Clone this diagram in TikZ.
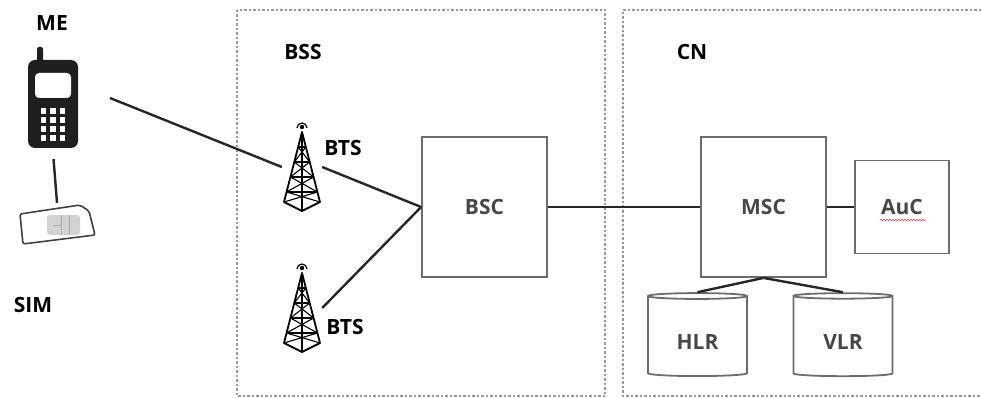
\documentclass[tikz,border=0pt]{standalone}
\usepackage{fontspec}
\setmainfont{Open Sans}
\usepackage{tikz}
\usetikzlibrary{arrows}
\usetikzlibrary{calc}
\usetikzlibrary{shapes.geometric}
\usetikzlibrary{decorations.pathmorphing}

\begin{document}
\begin{tikzpicture}[x=1pt,y=-1pt,inner sep=0pt,
  every node/.style={font=\fontsize{21}{24}\selectfont\bfseries},
  group/.style={draw=gray!80,line width=1.6pt,dash pattern=on 2.5pt off 2pt},
  box/.style={draw=gray!85!black,line width=1.8pt,text=black!72,minimum width=125pt,minimum height=140pt},
  db/.style={draw=gray!85!black,line width=1.8pt,text=black!72,cylinder,shape border rotate=90,aspect=0.14,minimum width=99pt,minimum height=83pt,text height=25pt},
  link/.style={line width=2.4pt,black!85},
  tower/.pic={
    \fill (0,-40) circle (2.2);
    \draw[line width=1.2pt] (-5,-39) arc (180:360:5);
    \draw[line width=1.8pt,line join=round] (-18,35) -- (0,-35) -- (18,35) -- (0,44) -- cycle (0,-35) -- (0,44);
    \foreach \a in {-20,-5,10,25}
      \draw[line width=1.3pt] ({-18*(\a+35)/70},\a) -- ({18*(\a+35)/70},\a);
    \foreach \a/\b in {-20/-5,-5/10,10/25,25/35}
      \draw[line width=1.1pt] ({-18*(\a+35)/70},\a) -- ({18*(\b+35)/70},\b) ({18*(\a+35)/70},\a) -- ({-18*(\b+35)/70},\b);
  },
  phone/.pic={
    \fill[black!88,rounded corners=2pt] (-16,-57) rectangle (-10,-40);
    \fill[black!88,rounded corners=7pt] (-25,-44) rectangle (25,44);
    \fill[white,rounded corners=4pt] (-18,-31) rectangle (18,-6);
    \foreach \i in {-9.5,0,9.5}
      \foreach \j in {7,16,25,34}
        \fill[white] (\i-2.8,\j-2.8) rectangle +(5.6,5.6);
  },
  simcard/.pic={
    \fill[gray!35,rounded corners=3pt] (-10,-9) rectangle (23,11);
    \draw[gray!65,line width=0.9pt] (4,-9) -- (4,11) (12,-9) -- (12,11) (-4,1) -- (4,1);
    \draw[black!75,line width=1.6pt,rounded corners=2pt] (-37,-10) -- (23,-19) -- (32,-13) -- (38,11) -- (-34,20) -- cycle;
  }]
\useasboundingbox (0,0) rectangle (981,398);

% groups
\draw[group] (237,10) rectangle (605,396);
\draw[group] (981,10) -- (623,10) -- (623,396) -- (981,396);
\node (BSSlbl) at (303,52) {BSS};
\node (CNlbl) at (692,52) {CN};

% mobile station
\node (MElbl) at (52,23) {ME};
\node [minimum width=52pt,minimum height=96pt] (ME) at (53,104) {};
\pic at (ME.center) {phone};
\coordinate (MEout) at (110,98);
\node [minimum width=76pt,minimum height=42pt] (SIM) at (57,224) {};
\pic at (SIM.center) {simcard};
\node (SIMlbl) at (33,305) {SIM};

% base stations
\node [minimum width=40pt,minimum height=94pt] (BTS1) at (302,167) {};
\node [minimum width=40pt,minimum height=94pt] (BTS2) at (302,308) {};
\pic at (BTS1.center) {tower};
\pic at (BTS2.center) {tower};
\node (BTS1lbl) at (343,148) {BTS};
\node (BTS2lbl) at (345,327) {BTS};

% controllers
\draw node [box] (BSC) at (484.5,207) {BSC};
\draw node [box] [node distance=279pt,right of=BSC] (MSC) {MSC};
\draw node [box,minimum width=94pt,minimum height=93pt] [node distance=138.5pt,right of=MSC] (AuC) {AuC};
\draw [red!80,line width=0.6pt,decorate,decoration={snake,amplitude=0.8pt,segment length=3pt}] ($(AuC.center)+(-22,13)$) -- ($(AuC.center)+(24,13)$);
\draw node [db] (HLR) at (697.5,336.5) {HLR};
\draw node [db] [node distance=145.5pt,right of=HLR] (VLR) {VLR};

% links
\draw [link] (MEout) -- (BTS1.west);
\draw [link,shorten <=7pt] (ME.south) -- (SIM.north);
\draw [link] (BTS1.east) -- (BSC.west);
\draw [link] (BTS2.east) -- (BSC.west);
\draw [link] (BSC.east) -- (MSC.west);
\draw [link] (MSC.east) -- (AuC.west);
\draw [link] (MSC.south) -- (HLR.top);
\draw [link] (MSC.south) -- (VLR.top);
\end{tikzpicture}
\end{document}
